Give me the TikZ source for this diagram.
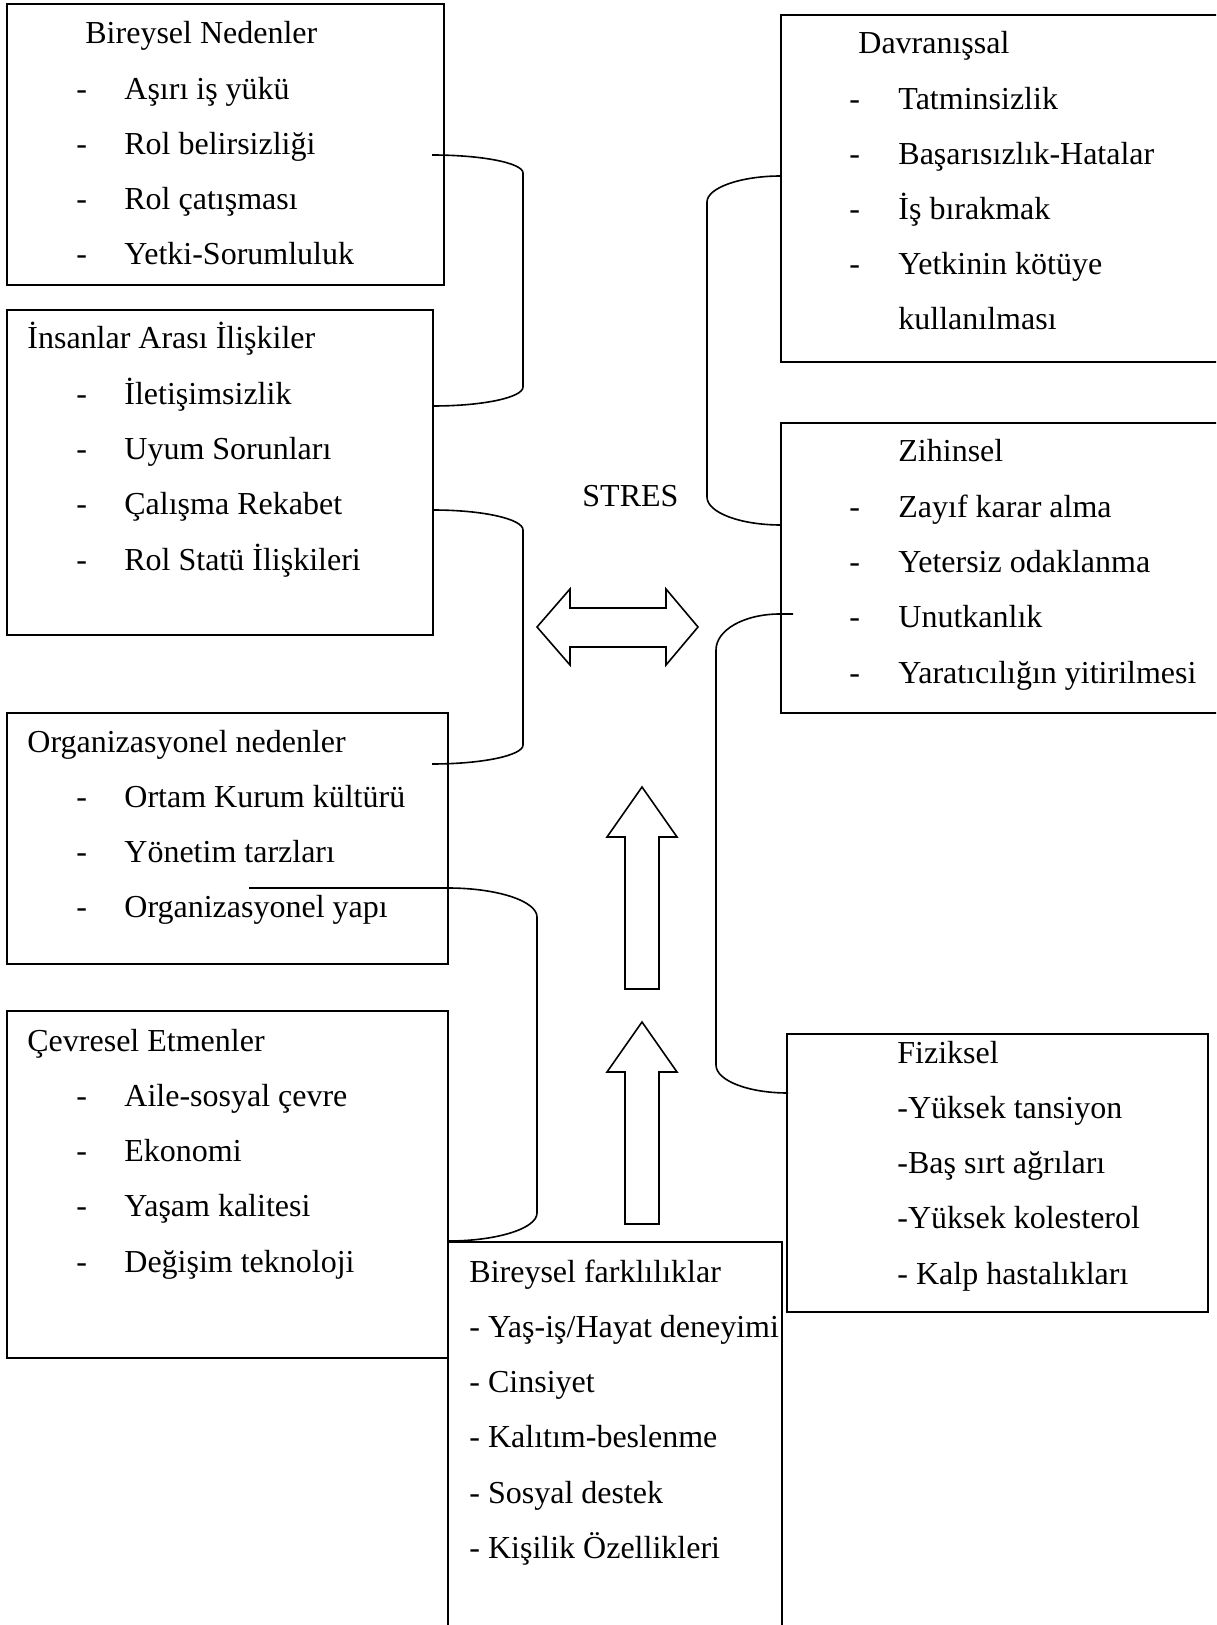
\documentclass[tikz,border=0pt]{standalone}
\usepackage{fontspec}
\setmainfont{Liberation Serif}
\usetikzlibrary{fit}

\begin{document}
\begin{tikzpicture}[x=0.5pt, y=-0.5pt,
  box/.style={draw, line width=1pt, inner sep=0pt},
  txt/.style={anchor=base west, inner sep=0pt, font=\fontsize{16}{18}\selectfont},
  link/.style={line width=0.8pt},
  blockarrow/.style={draw, line width=0.8pt, line join=miter}
 ]
 \clip (0,0) rectangle (1216,1625);

 % boxes
 \node [box, fit={(7,4) (444,285)}] (BN) {};
 \node [box, fit={(7,310) (433,635)}] (IA) {};
 \node [box, fit={(7,713) (448,964)}] (ON) {};
 \node [box, fit={(7,1011) (448,1358)}] (CE) {};
 \node [box, fit={(448,1242) (782,1640)}] (BF) {};
 \node [box, fit={(781,15) (1230,362)}] (DV) {};
 \node [box, fit={(781,423) (1230,713)}] (ZH) {};
 \node [box, fit={(787,1034) (1208,1312)}] (FZ) {};

 % left side
 \node [txt] (BN-t) at (85,44) {Bireysel Nedenler};
 \foreach \t [count=\i] in {Aşırı iş yükü, Rol belirsizliği, Rol çatışması, Yetki-Sorumluluk} {
  \node [txt] (BN-d\i) at (76,{44+55.25*\i}) {-};
  \node [txt] (BN-\i) at (124,{44+55.25*\i}) {\t};
 }

 \node [txt] (IA-t) at (27,349) {İnsanlar Arası İlişkiler};
 \foreach \t [count=\i] in {İletişimsizlik, Uyum Sorunları, Çalışma Rekabet, Rol Statü İlişkileri} {
  \node [txt] (IA-d\i) at (76,{349+55.25*\i}) {-};
  \node [txt] (IA-\i) at (124,{349+55.25*\i}) {\t};
 }

 \node [txt] (ON-t) at (27,752) {Organizasyonel nedenler};
 \foreach \t [count=\i] in {Ortam Kurum kültürü, Yönetim tarzları, Organizasyonel yapı} {
  \node [txt] (ON-d\i) at (76,{752+55.25*\i}) {-};
  \node [txt] (ON-\i) at (124,{752+55.25*\i}) {\t};
 }

 \node [txt] (CE-t) at (27,1051) {Çevresel Etmenler};
 \foreach \t [count=\i] in {Aile-sosyal çevre, Ekonomi, Yaşam kalitesi, Değişim teknoloji} {
  \node [txt] (CE-d\i) at (76,{1051+55.25*\i}) {-};
  \node [txt] (CE-\i) at (124,{1051+55.25*\i}) {\t};
 }

 \node [txt] (BF-t) at (469,1282) {Bireysel farklılıklar};
 \foreach \t [count=\i] in {- Yaş-iş/Hayat deneyimi, - Cinsiyet, - Kalıtım-beslenme, - Sosyal destek, - Kişilik Özellikleri}
  \node [txt] (BF-\i) at (469,{1282+55.25*\i}) {\t};

 % right side
 \node [txt] (DV-t) at (858,54) {Davranışsal};
 \foreach \t [count=\i] in {Tatminsizlik, Başarısızlık-Hatalar, İş bırakmak, Yetkinin kötüye} {
  \node [txt] (DV-d\i) at (849,{54+55.25*\i}) {-};
  \node [txt] (DV-\i) at (898,{54+55.25*\i}) {\t};
 }
 \node [txt] (DV-5) at (898,330) {kullanılması};

 \node [txt] (ZH-t) at (898,462) {Zihinsel};
 \foreach \t [count=\i] in {Zayıf karar alma, Yetersiz odaklanma, Unutkanlık, Yaratıcılığın yitirilmesi} {
  \node [txt] (ZH-d\i) at (849,{462+55.25*\i}) {-};
  \node [txt] (ZH-\i) at (898,{462+55.25*\i}) {\t};
 }

 \node [txt] (FZ-t) at (897,1063) {Fiziksel};
 \foreach \t [count=\i] in {-Yüksek tansiyon, -Baş sırt ağrıları, -Yüksek kolesterol, - Kalp hastalıkları}
  \node [txt] (FZ-\i) at (897,{1063+55.25*\i}) {\t};

 \node [txt] (ST) at (582,507) {STRES};

 % brackets
 \coordinate (c1a) at (432,155);
 \coordinate (c1b) at (433,406);
 \coordinate (c2a) at (433,510);
 \coordinate (c2b) at (432,764);
 \coordinate (c3a) at (249,888);
 \coordinate (c3b) at (448,1241);
 \coordinate (c4a) at (781,176);
 \coordinate (c4b) at (781,525);
 \coordinate (c5a) at (793,614);
 \coordinate (c5b) at (788,1093);

 \draw [link] (c1a) .. controls +(50,0) and +(0,-10) .. (523,173)
  -- (523,387) .. controls +(0,10.5) and +(50,0) .. (c1b);
 \draw [link] (c2a) .. controls +(50,0) and +(0,-11) .. (523,530)
  -- (523,745) .. controls +(0,10.5) and +(50,0) .. (c2b);
 \draw [link] (c3a) -- (448,888) .. controls +(49,0) and +(0,-16) .. (537,917)
  -- (537,1213) .. controls +(0,15.5) and +(49,0) .. (c3b);
 \draw [link] (c4a) .. controls +(-41,0) and +(0,-14) .. (707,202)
  -- (707,497) .. controls +(0,15.5) and +(-41,0) .. (c4b);
 \draw [link] (c5a) -- (780,614) .. controls +(-36,0) and +(0,-20) .. (716,650)
  -- (716,1065) .. controls +(0,15.5) and +(-40,0) .. (c5b);

 % block arrows
 \draw [blockarrow] (537,627) -- (570,589) -- (570,608) -- (666,608) -- (666,589)
  -- (698,627) -- (666,665) -- (666,647) -- (570,647) -- (570,665) -- cycle;
 \foreach \y in {787,1022} {
  \draw [blockarrow] (642,\y) -- (677,\y+50) -- (659,\y+50) -- (659,\y+202)
   -- (625,\y+202) -- (625,\y+50) -- (607,\y+50) -- cycle;
 }
\end{tikzpicture}
\end{document}
